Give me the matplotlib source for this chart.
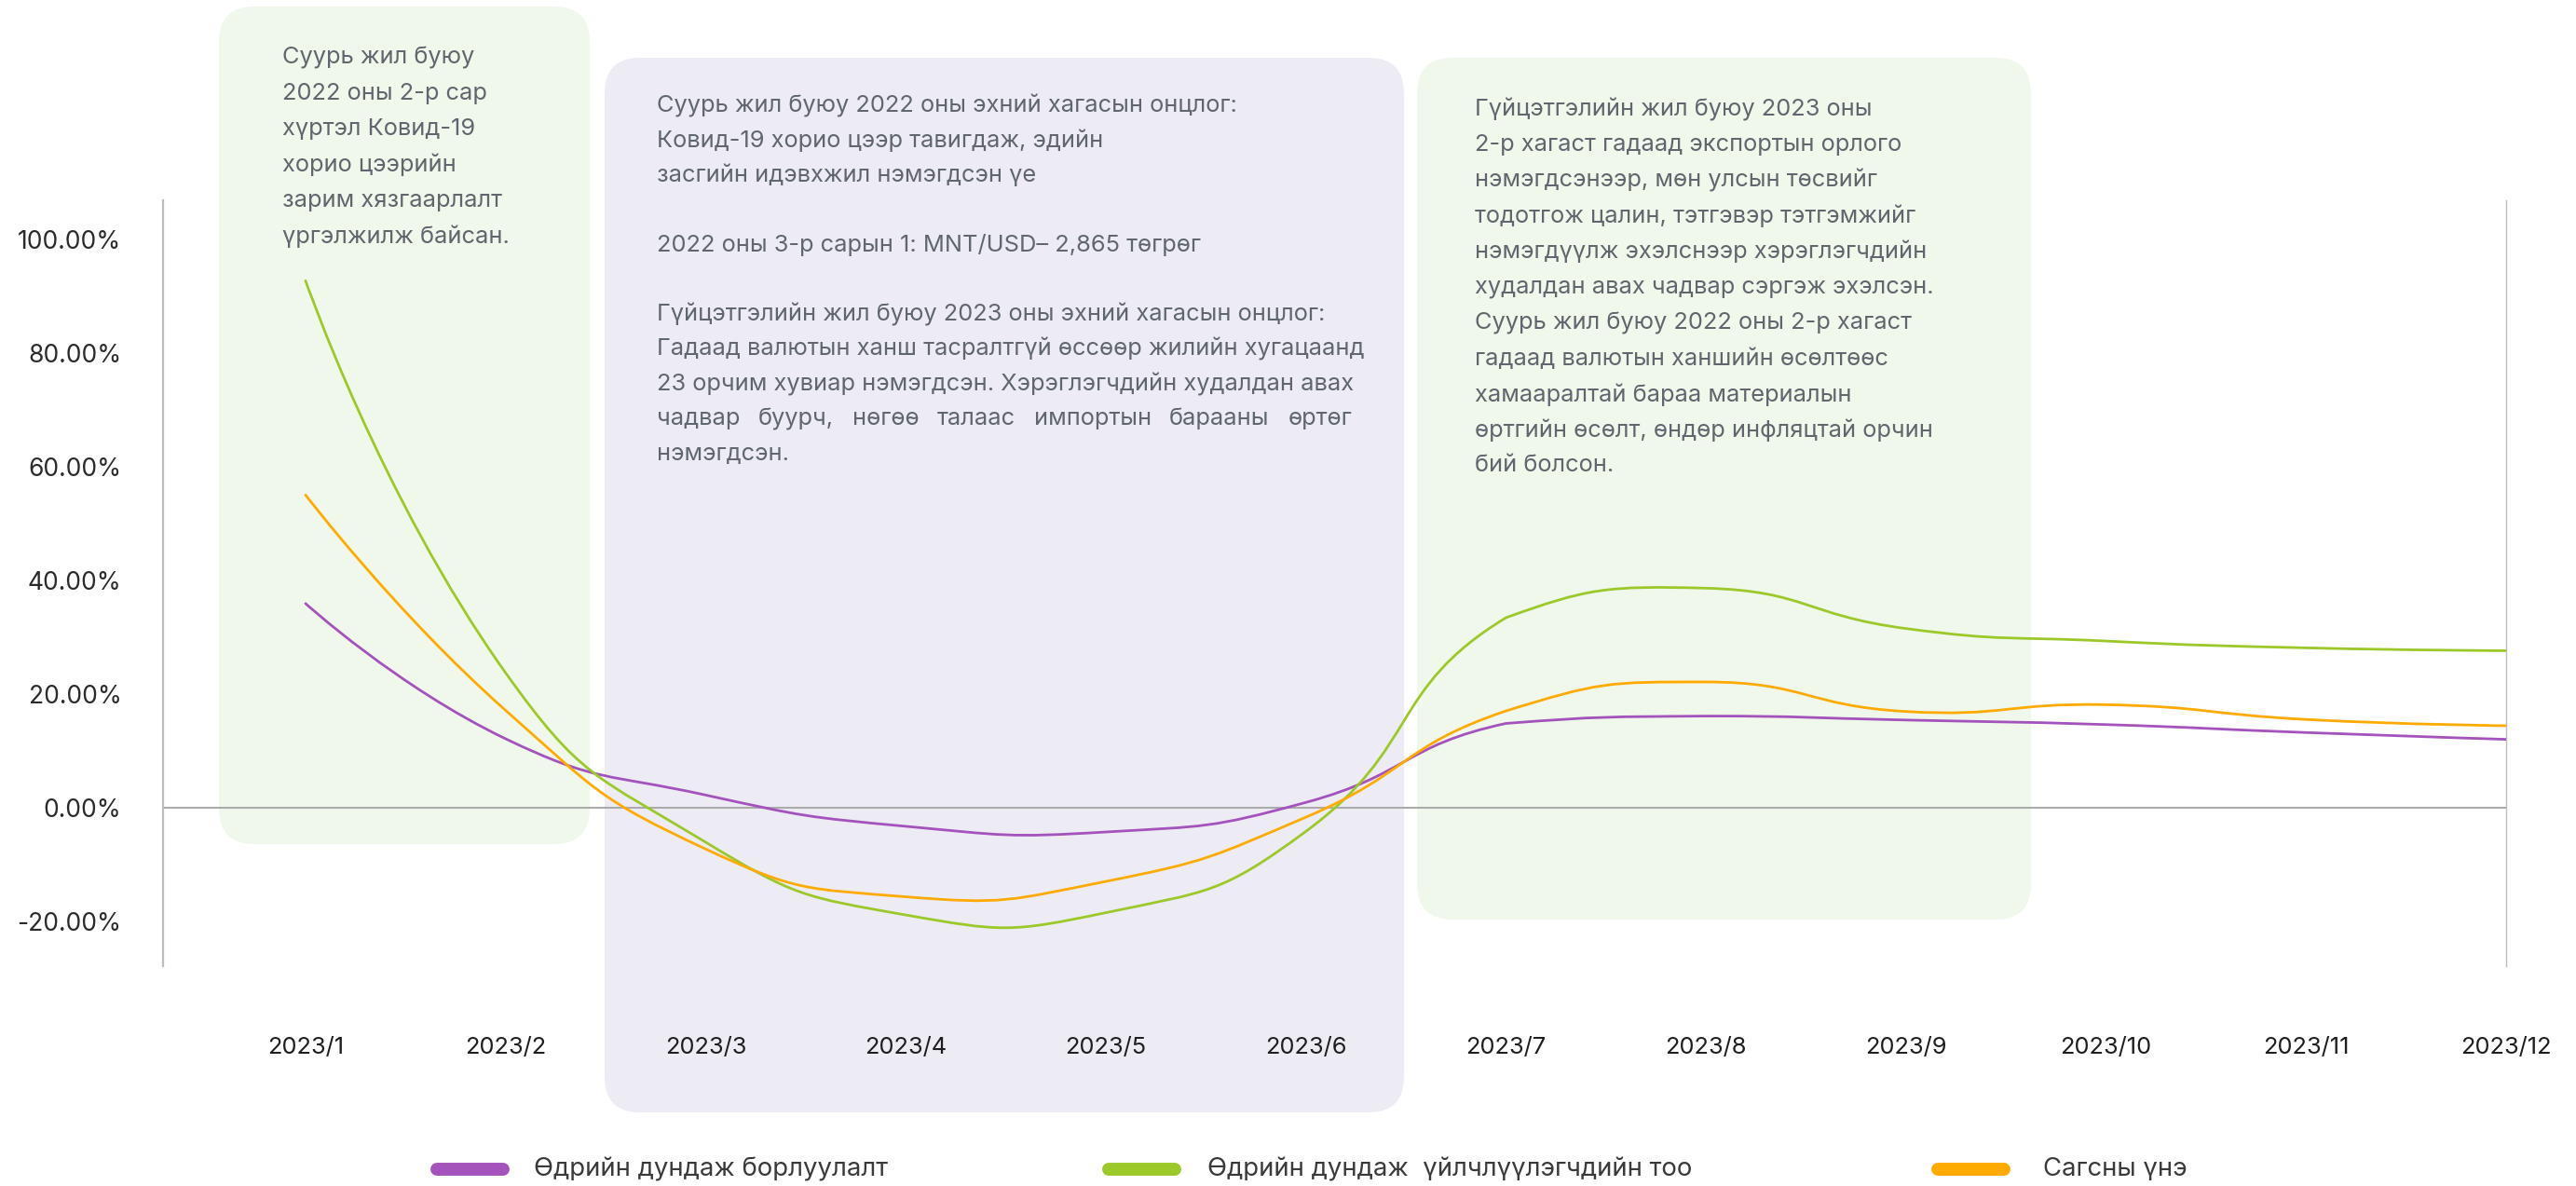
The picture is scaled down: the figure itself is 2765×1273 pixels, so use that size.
import numpy as np
import matplotlib
matplotlib.use("Agg")
import matplotlib.pyplot as plt
from matplotlib.path import Path
from matplotlib.patches import PathPatch, FancyBboxPatch
from matplotlib.lines import Line2D
from matplotlib.ticker import PercentFormatter

plt.rcParams['font.family'] = ['Inter', 'Noto Sans', 'DejaVu Sans']
plt.rcParams['axes.unicode_minus'] = False

# ---------------- data ----------------
months = ["2023/1", "2023/2", "2023/3", "2023/4", "2023/5", "2023/6",
          "2023/7", "2023/8", "2023/9", "2023/10", "2023/11", "2023/12"]
sales = [36.0, 12.2, 2.3, -3.2, -4.2, 1.0, 14.9, 16.2, 15.5, 14.7, 13.3, 12.1]
customers = [92.8, 23.8, -6.0, -18.8, -18.4, -4.1, 33.5, 38.7, 31.6, 29.4, 28.2, 27.7]
basket = [55.1, 17.2, -7.2, -15.6, -12.9, -1.6, 17.1, 22.2, 17.0, 18.2, 15.6, 14.5]
series_names = ["Өдрийн дундаж борлуулалт", "Өдрийн дундаж  үйлчлүүлэгчдийн тоо", "Сагсны үнэ"]
series_colors = ["#A452BC", "#9CC82A", "#FFAA00"]
yticks = [-20, 0, 20, 40, 60, 80, 100]

box1_lines = ["Суурь жил буюу", "2022 оны 2-р сар", "хүртэл Ковид-19",
              "хорио цээрийн", "зарим хязгаарлалт", "үргэлжилж байсан."]
box2_lines = ["Суурь жил буюу 2022 оны эхний хагасын онцлог:",
              "Ковид-19 хорио цээр тавигдаж, эдийн",
              "засгийн идэвхжил нэмэгдсэн үе",
              "",
              "2022 оны 3-р сарын 1: MNT/USD– 2,865 төгрөг",
              "",
              "Гүйцэтгэлийн жил буюу 2023 оны эхний хагасын онцлог:",
              "Гадаад валютын ханш тасралтгүй өссөөр жилийн хугацаанд",
              "23 орчим хувиар нэмэгдсэн. Хэрэглэгчдийн худалдан авах",
              "чадвар буурч, нөгөө талаас импортын барааны өртөг",
              "нэмэгдсэн."]
box2_justified = [9]
box3_lines = ["Гүйцэтгэлийн жил буюу 2023 оны",
              "2-р хагаст гадаад экспортын орлого",
              "нэмэгдсэнээр, мөн улсын төсвийг",
              "тодотгож цалин, тэтгэвэр тэтгэмжийг",
              "нэмэгдүүлж эхэлснээр хэрэглэгчдийн",
              "худалдан авах чадвар сэргэж эхэлсэн.",
              "Суурь жил буюу 2022 оны 2-р хагаст",
              "гадаад валютын ханшийн өсөлтөөс",
              "хамааралтай бараа материалын",
              "өртгийн өсөлт, өндөр инфляцтай орчин",
              "бий болсон."]

# ---------------- figure ----------------
W, H = 2765, 1273
fig = plt.figure(figsize=(W / 100, H / 100), dpi=100)
fig.patch.set_facecolor("white")

# background layer in pixel coordinates (y downwards)
bg = fig.add_axes([0, 0, 1, 1], zorder=0)
bg.set_xlim(0, W)
bg.set_ylim(H, 0)
bg.axis("off")

def rbox(x0, y0, x1, y1, color, r=38):
    p = FancyBboxPatch((x0, y0), x1 - x0, y1 - y0,
                       boxstyle="round,pad=0,rounding_size=%d" % r,
                       facecolor=color, edgecolor="none")
    bg.add_patch(p)

rbox(235, 7, 633, 906, "#F0F8EC")
rbox(649, 62, 1507, 1194, "#EDECF5")
rbox(1521, 62, 2180, 987, "#F0F8EC")

txt_color = "#60666D"
fs_box = 18.3

for i, s in enumerate(box1_lines):
    bg.text(303, 62 + i * 38.3, s, fontsize=fs_box, color=txt_color, va="center", ha="left")

renderer = fig.canvas.get_renderer()
for i, s in enumerate(box2_lines):
    y = 113 + i * 37.4
    if not s:
        continue
    if i in box2_justified:
        words = s.split()
        x_left, x_right = 705, 1451
        ts = [bg.text(0, y, w, fontsize=fs_box, color=txt_color, va="center", ha="left") for w in words]
        inv = bg.transData.inverted()
        widths = []
        for t in ts:
            bb = t.get_window_extent(renderer)
            widths.append(inv.transform((bb.x1, 0))[0] - inv.transform((bb.x0, 0))[0])
        gap = (x_right - x_left - sum(widths)) / (len(words) - 1)
        xx = x_left
        for t, wdt in zip(ts, widths):
            t.set_x(xx)
            xx += wdt + gap
    else:
        bg.text(705, y, s, fontsize=fs_box, color=txt_color, va="center", ha="left")

for i, s in enumerate(box3_lines):
    bg.text(1583, 117 + i * 38.3, s, fontsize=fs_box, color=txt_color, va="center", ha="left")

# legend (pixel coords)
leg_y = 1255
leg_items = [(469, 540, 573), (1190, 1261, 1296), (2080, 2151, 2193)]
for (x0, x1, xt), name, col in zip(leg_items, series_names, series_colors):
    bg.add_line(Line2D([x0, x1], [leg_y, leg_y], color=col, lw=10, solid_capstyle="round"))
    bg.text(xt, leg_y, name, fontsize=19.8, color="#3A3A3A", va="center", ha="left")

# ---------------- main axes ----------------
ax_left, ax_right, ax_top, ax_bottom = 175, 2690, 215, 1037
ax = fig.add_axes([ax_left / W, 1 - ax_bottom / H, (ax_right - ax_left) / W, (ax_bottom - ax_top) / H],
                  zorder=1)
ax.patch.set_alpha(0)
x = np.arange(len(months))
px_per_month = (2690 - 328) / 11
ax.set_xlim(-(328 - ax_left) / px_per_month, 11)
ppp = 6.1
ax.set_ylim(-(ax_bottom - 867.4) / ppp, (867.4 - ax_top) / ppp)

for sp in ["top", "bottom"]:
    ax.spines[sp].set_visible(False)
ax.spines["left"].set_color("#BDBDBD")
ax.spines["left"].set_linewidth(1.6)
ax.spines["right"].set_color("#BDBDBD")
ax.spines["right"].set_linewidth(1.0)
ax.axhline(0, color="#ABABAB", lw=1.5, zorder=1)

ax.set_yticks(yticks)
ax.yaxis.set_major_formatter(PercentFormatter(xmax=100, decimals=2))
ax.set_xticks(x)
ax.set_xticklabels(months)
ax.tick_params(axis="y", length=0, pad=32, labelsize=19, labelcolor="#2B2B2B")
ax.tick_params(axis="x", length=0, pad=55, labelsize=18.3, labelcolor="#1E1E1E")


def smooth_path(ax, xs, ys, smooth=0.5):
    """Bezier smoothing weighted by segment lengths; outgoing handle may not
    rise above the higher of the current / next point."""
    pts = ax.transData.transform(np.column_stack([xs, ys]).astype(float))
    n = len(pts)
    verts = [tuple(pts[0])]
    codes = [Path.MOVETO]
    cp0 = tuple(pts[0])
    for i in range(1, n):
        xx, yy = pts[i]
        px, py = pts[i - 1]
        if i == n - 1:
            cp1 = (xx, yy)
            ncp0 = None
        else:
            nx, ny = pts[i + 1]
            vx, vy = nx - px, ny - py
            lp = np.hypot(xx - px, yy - py)
            ln = np.hypot(nx - xx, ny - yy)
            r = ln / (ln + lp)
            cp1 = (xx - vx * smooth * (1 - r), yy - vy * smooth * (1 - r))
            ncx = xx + vx * smooth * r
            ncy = yy + vy * smooth * r
            ncx = min(max(ncx, min(nx, xx)), max(nx, xx))
            ncy = min(ncy, max(ny, yy))
            ncp0 = (ncx, ncy)
        verts += [cp0, cp1, (xx, yy)]
        codes += [Path.CURVE4] * 3
        cp0 = ncp0
    dverts = ax.transData.inverted().transform(np.array(verts))
    return Path(dverts, codes)


for vals, col in zip([sales, customers, basket], series_colors):
    path = smooth_path(ax, x, vals)
    ax.add_patch(PathPatch(path, facecolor="none", edgecolor=col, lw=2.0, zorder=3,
                           capstyle="round", joinstyle="round"))

fig.savefig("out.png", dpi=100, facecolor="white")
